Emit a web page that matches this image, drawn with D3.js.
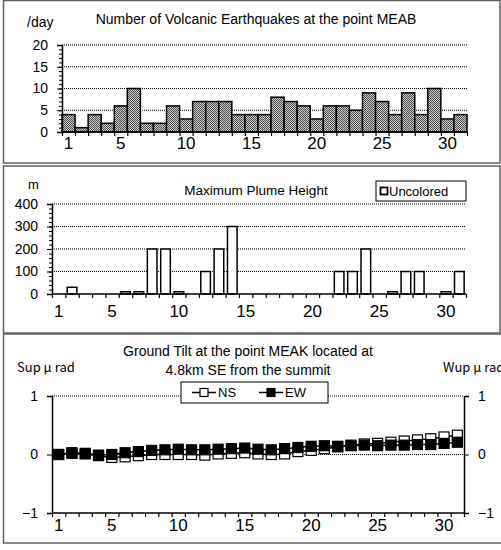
<!DOCTYPE html>
<html>
<head>
<meta charset="utf-8">
<script src="https://cdn.jsdelivr.net/npm/d3@7"></script>
<style>
  body { margin: 0; background: #fff; }
  svg { display: block; }
  text { font-family: "Liberation Sans", Arial, sans-serif; fill: #000; }
  .jp { font-family: "Noto Sans CJK JP", "Liberation Sans", sans-serif; }
</style>
</head>
<body>
<svg id="chart" width="501" height="550"></svg>
<script>
// ---------- data ----------
const days = d3.range(1, 32);
const dayLabels = [1, 5, 10, 15, 20, 25, 30];
const quakes = [4, 1, 4, 2, 6, 10, 2, 2, 6, 3, 7, 7, 7, 4, 4, 4, 8, 7, 6, 3, 6, 6, 5, 9, 7, 4, 9, 4, 10, 3, 4];
const plume = [0, 30, 0, 0, 0, 10, 10, 200, 200, 10, 0, 100, 200, 300, 0, 0, 0, 0, 0, 0, 0, 100, 100, 200, 0, 10, 100, 100, 0, 10, 100];
const tiltNS = [0, 0.02, 0.01, -0.02, -0.05, -0.04, -0.02, 0, 0, 0, 0, -0.01, 0.01, 0.02, 0.03, 0.01, 0, 0.01, 0.05, 0.07, 0.1, 0.13, 0.16, 0.18, 0.19, 0.21, 0.23, 0.25, 0.27, 0.3, 0.33];
const tiltEW = [0, 0.03, 0.02, -0.01, 0, 0.03, 0.05, 0.07, 0.08, 0.09, 0.08, 0.08, 0.09, 0.1, 0.11, 0.09, 0.08, 0.1, 0.12, 0.14, 0.15, 0.14, 0.15, 0.16, 0.15, 0.16, 0.16, 0.17, 0.17, 0.19, 0.21];
const quakeTicks = [0, 5, 10, 15, 20];
const plumeTicks = [0, 100, 200, 300, 400];
const tiltTicks = [-1, 0, 1];

const svg = d3.select("#chart");

// checker pattern for the earthquake bars
const pat = svg.append("defs").append("pattern")
  .attr("id", "dots").attr("width", 2).attr("height", 2)
  .attr("patternUnits", "userSpaceOnUse");
pat.append("rect").attr("width", 2).attr("height", 2).attr("fill", "#d0d0d0");
pat.append("rect").attr("width", 1).attr("height", 1).attr("fill", "#484848");
pat.append("rect").attr("x", 1).attr("y", 1).attr("width", 1).attr("height", 1).attr("fill", "#484848");

// panel frames
function frame(x0, y0, x1, y1) {
  svg.append("rect").attr("x", x0).attr("y", y0).attr("width", x1 - x0).attr("height", y1 - y0)
    .attr("fill", "none").attr("stroke", "#606060").attr("stroke-width", 1.5);
}
frame(3.5, 0.5, 500, 163);
frame(3.5, 166, 500, 333);
frame(3.5, 334, 512, 543);

// ---------- shared helpers ----------
function dayAxis(x, y0, pad) {
  const lin = d3.scaleLinear().domain([0.5, 31.5]).range(x.range());
  svg.append("g").attr("transform", `translate(0,${y0})`)
    .call(d3.axisBottom(lin).tickValues(d3.range(0.5, 32, 1)).tickSize(4).tickFormat(""))
    .call(g => g.select(".domain").remove())
    .call(g => g.selectAll("line").attr("stroke-width", 1.2));
  svg.append("line").attr("x1", x.range()[0]).attr("x2", x.range()[1])
    .attr("y1", y0).attr("y2", y0).attr("stroke", "#000").attr("stroke-width", 1.5);
  svg.append("g").attr("transform", `translate(0,${y0})`)
    .call(d3.axisBottom(x).tickValues(dayLabels).tickSize(0).tickPadding(pad))
    .call(g => g.select(".domain").remove())
    .call(g => g.selectAll("text").attr("font-size", 17).attr("font-family", null));
}

function valueAxis(y, xPos, ticks, minor, right) {
  const ax = right ? d3.axisRight(y) : d3.axisLeft(y);
  if (minor) {
    svg.append("g").attr("transform", `translate(${xPos},0)`)
      .call((right ? d3.axisRight(y) : d3.axisLeft(y)).tickValues(minor).tickSize(3).tickFormat(""))
      .call(g => g.select(".domain").remove());
  }
  svg.append("g").attr("transform", `translate(${xPos},0)`)
    .call(ax.tickValues(ticks).tickSize(5).tickPadding(9).tickFormat(d => d < 0 ? "\u2212" + (-d) : d))
    .call(g => g.select(".domain").attr("stroke-width", 1.5))
    .call(g => g.selectAll("text").attr("font-size", 14).attr("font-family", null));
}

function grid(y, x, vals) {
  svg.append("g").selectAll("line").data(vals).join("line")
    .attr("x1", x.range()[0]).attr("x2", x.range()[1])
    .attr("y1", d => y(d)).attr("y2", d => y(d))
    .attr("stroke", "#000").attr("stroke-width", 1).attr("stroke-dasharray", "1,1");
}

// ---------- panel 1: volcanic earthquakes ----------
const x1 = d3.scaleBand().domain(days).range([62, 467]).padding(0);
const y1 = d3.scaleLinear().domain([0, 20]).range([132, 45]);

svg.append("text").attr("x", 256).attr("y", 24).attr("text-anchor", "middle").attr("font-size", 14)
  .text("Number of Volcanic Earthquakes at the point MEAB");
svg.append("text").attr("x", 27).attr("y", 27).attr("font-size", 14).text("/day");

grid(y1, x1, quakeTicks.slice(1));
svg.append("g").selectAll("rect").data(days).join("rect")
  .attr("x", d => x1(d)).attr("width", x1.bandwidth())
  .attr("y", (d, i) => y1(quakes[i])).attr("height", (d, i) => y1(0) - y1(quakes[i]))
  .attr("fill", "url(#dots)").attr("stroke", "#000").attr("stroke-width", 1.5);
valueAxis(y1, 62, quakeTicks, d3.range(0, 21, 1), false);
dayAxis(x1, 132, 5);

// ---------- panel 2: plume height ----------
const x2 = d3.scaleBand().domain(days).range([52, 466]).padding(0);
const y2 = d3.scaleLinear().domain([0, 400]).range([294, 204]);
const barW = x2.bandwidth() * 0.72;

svg.append("text").attr("x", 256).attr("y", 195).attr("text-anchor", "middle").attr("font-size", 13.5)
  .text("Maximum Plume Height");
svg.append("text").attr("x", 28).attr("y", 189).attr("font-size", 13).text("m");

grid(y2, x2, plumeTicks.slice(1));
svg.append("g").selectAll("rect").data(days.filter((d, i) => plume[i] > 0)).join("rect")
  .attr("x", d => x2(d) + (x2.bandwidth() - barW) / 2).attr("width", barW)
  .attr("y", d => y2(plume[d - 1])).attr("height", d => y2(0) - y2(plume[d - 1]))
  .attr("fill", "#fff").attr("stroke", "#000").attr("stroke-width", 1.5);
valueAxis(y2, 52, plumeTicks, d3.range(0, 401, 20), false);
dayAxis(x2, 294, 11);

// legend
svg.append("rect").attr("x", 376).attr("y", 181).attr("width", 90).attr("height", 20)
  .attr("fill", "#fff").attr("stroke", "#000").attr("stroke-width", 1);
svg.append("rect").attr("x", 380.5).attr("y", 187.5).attr("width", 7).attr("height", 7)
  .attr("fill", "#fff").attr("stroke", "#000").attr("stroke-width", 1.8);
svg.append("text").attr("x", 389).attr("y", 196).attr("font-size", 13).text("Uncolored");

// ---------- panel 3: ground tilt ----------
const x3 = d3.scaleBand().domain(days).range([52, 464]).padding(0);
const y3 = d3.scaleLinear().domain([-1, 1]).range([513, 396]);
const cx = d => x3(d) + x3.bandwidth() / 2;

svg.append("text").attr("x", 248).attr("y", 356).attr("text-anchor", "middle").attr("font-size", 14)
  .text("Ground Tilt at the point MEAK located at");
svg.append("text").attr("x", 248).attr("y", 375).attr("text-anchor", "middle").attr("font-size", 14)
  .text("4.8km SE from the summit");
svg.append("text").attr("class", "jp").attr("x", 17).attr("y", 372).attr("font-size", 13).text("Sup μ rad");
svg.append("text").attr("class", "jp").attr("x", 443).attr("y", 372).attr("font-size", 13).text("Wup μ rad");

grid(y3, x3, [0, 1]);
valueAxis(y3, 52, tiltTicks, null, false);
valueAxis(y3, 464, tiltTicks, null, true);
dayAxis(x3, 513, 6);

const line = d3.line().x((v, i) => cx(days[i])).y(v => y3(v));
[[tiltNS, "#fff"], [tiltEW, "#000"]].forEach(([vals, fill]) => {
  svg.append("path").datum(vals).attr("d", line)
    .attr("fill", "none").attr("stroke", "#000").attr("stroke-width", 1.5);
  svg.append("g").selectAll("rect").data(vals).join("rect")
    .attr("x", (v, i) => cx(days[i]) - 5).attr("y", v => y3(v) - 5)
    .attr("width", 10).attr("height", 10)
    .attr("fill", fill).attr("stroke", "#000").attr("stroke-width", 1.2);
});

// legend
svg.append("rect").attr("x", 181).attr("y", 382).attr("width", 147).attr("height", 21)
  .attr("fill", "#fff").attr("stroke", "#000").attr("stroke-width", 1);
[["NS", "#fff", 192], ["EW", "#000", 259]].forEach(([name, fill, lx]) => {
  svg.append("line").attr("x1", lx).attr("x2", lx + 24).attr("y1", 392.5).attr("y2", 392.5)
    .attr("stroke", "#000").attr("stroke-width", 1.5);
  svg.append("rect").attr("x", lx + 8).attr("y", 388.5).attr("width", 8).attr("height", 8)
    .attr("fill", fill).attr("stroke", "#000").attr("stroke-width", 1.2);
  svg.append("text").attr("x", lx + 26).attr("y", 397).attr("font-size", 13).text(name);
});
</script>
</body>
</html>
